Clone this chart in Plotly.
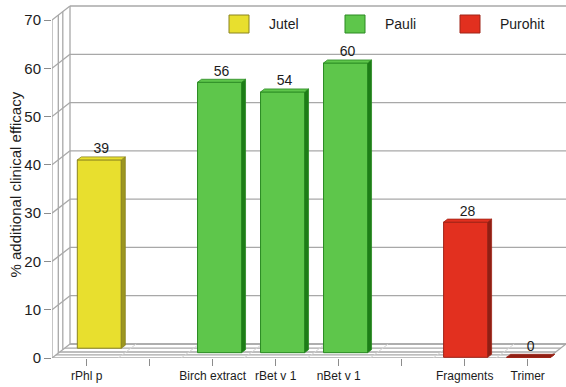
import plotly.graph_objects as go

# ---- data -------------------------------------------------------------
categories = ["rPhl p", "", "Birch extract", "rBet v 1", "nBet v 1", "", "Fragments", "Trimer"]
series_names = ["Jutel", "Pauli", "Purohit"]
jutel_slots = [0]
jutel_values = [39]
pauli_slots = [2, 3, 4]
pauli_values = [56, 54, 60]
purohit_slots = [6, 7]
purohit_values = [28, 0]
y_ticks = [0, 10, 20, 30, 40, 50, 60, 70]

# ---- geometry of the pseudo-3D frame ------------------------------------
W, H = 566, 387
ML, MB = 52, 29
PLOT_W, PLOT_H = W - ML, H - MB
SLOT_PX = 63.0                    # pixels per category slot
FIRST_SLOT_PX = 86.7              # pixel x of first category tick
UNIT_PX = 338.0 / 70.0            # pixels per value unit
x_lo = -(FIRST_SLOT_PX - ML) / SLOT_PX
x_hi = x_lo + PLOT_W / SLOT_PX
y_hi = PLOT_H / UNIT_PX


def shift(px, py):
    """Convert a pixel offset (right, up) into axis units."""
    return px / SLOT_PX, py / UNIT_PX


back_dx, back_dy = shift(18, 14)          # depth of the whole box
face_dx, face_dy = shift(4, 3)            # depth of a single bar
bar_w = 44.0 / SLOT_PX
x_floor_end = (548 - FIRST_SLOT_PX) / SLOT_PX

FRAME = "#a8a8a8"
FAINT = "#d4d4d4"
TEXT = "#1c1c1c"
FONT = "Liberation Sans, Arial, sans-serif"

series = [
    # name, slots, values, depth fraction, face, side, edge
    (series_names[0], jutel_slots, jutel_values, 0.70, "#e8df2e", "#9c9620", "#8a8420"),
    (series_names[1], pauli_slots, pauli_values, 0.38, "#5ec64b", "#1d7d17", "#2a8a22"),
    (series_names[2], purohit_slots, purohit_values, 0.05, "#e2301f", "#8f1f14", "#a02418"),
]

shapes = []


def frame_line(x0, y0, x1, y1, color=FRAME, width=1.3):
    shapes.append(dict(type="line", xref="x", yref="y", x0=x0, y0=y0, x1=x1, y1=y1,
                       line=dict(color=color, width=width), layer="below"))


# back wall gridlines and left side wall
for v in y_ticks:
    frame_line(x_lo + back_dx, v + back_dy, x_hi, v + back_dy)
    frame_line(x_lo, v, x_lo + back_dx, v + back_dy)
for f in [0.0, 0.35, 0.6, 1.0]:
    frame_line(x_lo + f * back_dx, f * back_dy, x_lo + f * back_dx, 70 + f * back_dy)

# floor
for f in [0.0, 0.22, 0.43, 0.71, 1.0]:
    frame_line(x_lo + f * back_dx, f * back_dy, x_floor_end + f * back_dx, f * back_dy)
frame_line(x_floor_end, 0, x_hi, back_dy)
for b in range(len(categories) - 1):
    xb = b + 0.5
    frame_line(xb, 0, xb + back_dx, back_dy, color=FAINT, width=1)

fig = go.Figure()

for name, slots, values, depth, face, side, edge in series:
    ox, oy = depth * back_dx, depth * back_dy
    xs = [s + ox for s in slots]
    fig.add_trace(go.Bar(
        x=xs, y=values, base=[oy] * len(values), width=bar_w, name=name,
        marker=dict(color=face, line=dict(color=edge, width=1)),
        showlegend=False, hoverinfo="skip",
    ))
    for xc, v in zip(xs, values):
        left, right = xc - bar_w / 2, xc + bar_w / 2
        bottom, top = oy, oy + v
        # side face
        fig.add_trace(go.Scatter(
            x=[right, right + face_dx, right + face_dx, right, right],
            y=[bottom, bottom + face_dy, top + face_dy, top, bottom],
            mode="lines", fill="toself", fillcolor=side,
            line=dict(color=edge, width=0.8), showlegend=False, hoverinfo="skip",
        ))
        # top face
        fig.add_trace(go.Scatter(
            x=[left, right, right + face_dx, left + face_dx, left],
            y=[top, top, top + face_dy, top + face_dy, top],
            mode="lines", fill="toself", fillcolor=face if v > 0 else side,
            line=dict(color=edge, width=0.8), showlegend=False, hoverinfo="skip",
        ))
    # value labels
    fig.add_trace(go.Scatter(
        x=[x + face_dx / 2 for x in xs], y=[oy + v + face_dy for v in values],
        mode="text", text=[str(v) for v in values], textposition="top center",
        textfont=dict(family=FONT, size=14, color=TEXT),
        showlegend=False, hoverinfo="skip",
    ))

# legend drawn inside the top band of the back wall
annotations = []


def px_paper_x(px):
    return (px - ML) / PLOT_W


def px_paper_y(py):
    return (PLOT_H - py) / PLOT_H


legend_x = [229, 345, 460]
for (name, _, _, _, face, side, edge), lx in zip(series, legend_x):
    shapes.append(dict(type="rect", xref="paper", yref="paper",
                       x0=px_paper_x(lx), x1=px_paper_x(lx + 20),
                       y0=px_paper_y(33), y1=px_paper_y(15),
                       fillcolor=face, line=dict(color=edge, width=1)))
    annotations.append(dict(xref="paper", yref="paper", x=px_paper_x(lx + 38), y=px_paper_y(24),
                            text=name, showarrow=False, xanchor="left", yanchor="middle",
                            font=dict(family=FONT, size=14, color=TEXT)))

annotations.append(dict(xref="paper", yref="paper", x=px_paper_x(15), y=px_paper_y(184.5),
                        text="% additional clinical efficacy", textangle=-90, showarrow=False,
                        xanchor="center", yanchor="middle",
                        font=dict(family=FONT, size=15, color=TEXT)))

fig.update_layout(
    width=W, height=H,
    margin=dict(l=ML, r=0, t=0, b=MB, pad=0),
    paper_bgcolor="white", plot_bgcolor="white",
    barmode="overlay",
    shapes=shapes, annotations=annotations,
    showlegend=False,
    xaxis=dict(range=[x_lo, x_hi], tickmode="array", tickvals=list(range(len(categories))),
               ticktext=categories, ticks="outside", ticklen=7, tickcolor="#8c8c8c",
               showgrid=False, zeroline=False, showline=False, fixedrange=True,
               tickfont=dict(family=FONT, size=12, color=TEXT)),
    yaxis=dict(range=[0, y_hi], tickmode="array", tickvals=y_ticks, ticks="outside",
               ticklen=7, tickcolor="#8c8c8c", showgrid=False, zeroline=False,
               showline=False, fixedrange=True,
               tickfont=dict(family=FONT, size=15, color=TEXT)),
)

fig.write_html("out.html", config={"displayModeBar": False})
